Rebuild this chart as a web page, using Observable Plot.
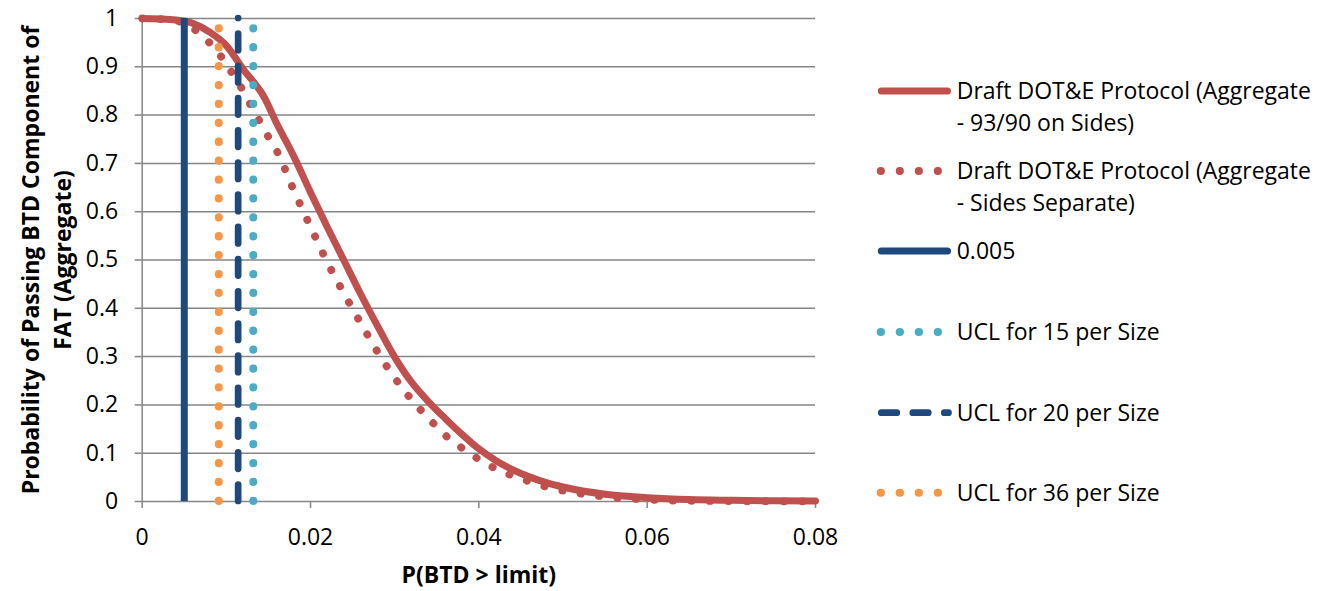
<!DOCTYPE html>
<html><head><meta charset="utf-8">
<script src="https://cdn.jsdelivr.net/npm/d3@7"></script>
<script src="https://cdn.jsdelivr.net/npm/@observablehq/plot@0.6"></script>
<style>
body{margin:0;background:#fff}
#wrap{position:relative;width:1322px;height:591px;overflow:hidden;background:#fff}
#chart{position:absolute;left:0;top:0}
#legend{position:absolute;left:850px;top:0}
</style>
</head><body>
<div id="wrap"><div id="chart"></div><svg id="legend" width="472" height="591"></svg></div>
<script>
// ---- data ----
const solidX = [0, 0.002, 0.004, 0.005, 0.006, 0.008, 0.010, 0.012, 0.0145, 0.016, 0.018, 0.020, 0.022, 0.024, 0.026, 0.028, 0.030, 0.032, 0.034, 0.036, 0.038, 0.040, 0.042, 0.044, 0.046, 0.048, 0.050, 0.055, 0.060, 0.065, 0.070, 0.075, 0.080];
const solidY = [1.000, 0.999, 0.997, 0.995, 0.990, 0.972, 0.944, 0.895, 0.837, 0.782, 0.715, 0.640, 0.568, 0.498, 0.428, 0.362, 0.299, 0.247, 0.207, 0.172, 0.139, 0.109, 0.085, 0.066, 0.051, 0.039, 0.030, 0.015, 0.008, 0.004, 0.0025, 0.0015, 0.001];
const dottedX = [0, 0.003, 0.005, 0.0069, 0.0083, 0.0098, 0.0110, 0.0122, 0.0132, 0.0143, 0.0154, 0.0165, 0.0173, 0.0182, 0.0201, 0.0220, 0.0241, 0.0263, 0.0286, 0.0312, 0.0326, 0.0342, 0.0357, 0.0375, 0.0393, 0.0412, 0.0432, 0.0454, 0.0475, 0.0496, 0.0519, 0.0541, 0.0563, 0.0585, 0.0607, 0.0629, 0.065, 0.070, 0.075, 0.080];
const dottedY = [1.000, 0.998, 0.990, 0.968, 0.944, 0.911, 0.878, 0.844, 0.810, 0.777, 0.742, 0.709, 0.673, 0.637, 0.565, 0.495, 0.427, 0.359, 0.292, 0.228, 0.199, 0.169, 0.142, 0.117, 0.095, 0.075, 0.059, 0.045, 0.033, 0.024, 0.017, 0.012, 0.008, 0.0056, 0.0035, 0.002, 0.0015, 0.001, 0.0005, 0.0003];
const refLimit = 0.005;
const ucl15 = 0.0132;
const ucl20 = 0.0114;
const ucl36 = 0.0091;
const xTicks = [0, 0.02, 0.04, 0.06, 0.08];
const xTickLabels = ["0", "0.02", "0.04", "0.06", "0.08"];
const yTicks = [0, 0.1, 0.2, 0.3, 0.4, 0.5, 0.6, 0.7, 0.8, 0.9, 1];
const yTickLabels = ["0", "0.1", "0.2", "0.3", "0.4", "0.5", "0.6", "0.7", "0.8", "0.9", "1"];
const seriesNames = [
  ["Draft DOT&E Protocol (Aggregate", "- 93/90 on Sides)"],
  ["Draft DOT&E Protocol (Aggregate", "- Sides Separate)"],
  ["0.005"],
  ["UCL for 15 per Size"],
  ["UCL for 20 per Size"],
  ["UCL for 36 per Size"]
];
const xTitle = "P(BTD > limit)";
const yTitle = "Probability of Passing BTD Component of\nFAT (Aggregate)";

const RED = "#C0504D", NAVY = "#1F497D", CYAN = "#4BACC6", ORANGE = "#F79646", GRID = "#868686";

const solid = solidX.map((x, i) => ({x, y: solidY[i]}));
const dotted = dottedX.map((x, i) => ({x, y: dottedY[i]}));

const chart = Plot.plot({
  width: 850, height: 591,
  marginLeft: 141.7, marginRight: 35, marginTop: 18, marginBottom: 90,
  style: {fontFamily: "'Open Sans'", fontSize: "23px", color: "#000", background: "#fff"},
  x: {domain: [0, 0.08]},
  y: {domain: [0, 1]},
  marks: [
    Plot.gridY(yTicks, {stroke: GRID, strokeOpacity: 1, strokeWidth: 1.5}),
    Plot.ruleX([0], {stroke: GRID, strokeWidth: 1.5}),
    Plot.axisY({ticks: yTicks, tickFormat: (d) => yTickLabels[yTicks.indexOf(d)], tickSize: 7, tickPadding: 17, stroke: GRID, strokeWidth: 1.5, fill: "#000", label: null}),
    Plot.axisX({ticks: xTicks, tickFormat: (d) => xTickLabels[xTicks.indexOf(d)], tickSize: 7, tickPadding: 20, stroke: GRID, strokeWidth: 1.5, fill: "#000", label: null}),
    Plot.line(solid, {x: "x", y: "y", stroke: RED, strokeWidth: 7, curve: "monotone-x", strokeLinejoin: "round"}),
    Plot.line(dotted, {x: "x", y: "y", stroke: RED, strokeWidth: 7.8, curve: "monotone-x", strokeDasharray: "0.3 18.2", strokeLinecap: "round"}),
    Plot.ruleX([refLimit], {y1: 0, y2: 1, stroke: NAVY, strokeWidth: 7}),
    Plot.ruleX([ucl15], {y1: 0, y2: 1, stroke: CYAN, strokeWidth: 8, strokeDasharray: "0.3 18.6", strokeLinecap: "round"}),
    Plot.ruleX([ucl20], {y1: 0, y2: 1, stroke: NAVY, strokeWidth: 6.7, strokeDasharray: "16.5 15.7", strokeLinecap: "round"}),
    Plot.ruleX([ucl36], {y1: 0, y2: 1, stroke: ORANGE, strokeWidth: 8, strokeDasharray: "0.3 18.6", strokeLinecap: "round"}),
    Plot.text([yTitle], {frameAnchor: "left", rotate: -90, dx: -97.7, fontWeight: "bold", textAnchor: "middle", lineAnchor: "middle", lineHeight: 1.38, fill: "#000"}),
    Plot.text([xTitle], {frameAnchor: "bottom", dy: 74, fontWeight: "bold", textAnchor: "middle", lineAnchor: "middle", fill: "#000"})
  ]
});
document.getElementById("chart").appendChild(chart);

// ---- legend ----
const lg = d3.select("#legend");
const off = 850;
const items = [
  {y: 91, color: RED, w: 7, dash: null, x1: 881.3, x2: 947.5},
  {y: 171, color: RED, w: 7.8, dash: "0.3 18.7", x1: 880.7, x2: 945},
  {y: 251, color: NAVY, w: 7, dash: null, x1: 881.3, x2: 947.5},
  {y: 332, color: CYAN, w: 8, dash: "0.3 18.7", x1: 880.7, x2: 945},
  {y: 412.7, color: NAVY, w: 6.7, dash: "15.5 16", x1: 881.3, x2: 948.5},
  {y: 492.7, color: ORANGE, w: 8, dash: "0.3 18.7", x1: 880.7, x2: 945}
];
items.forEach((it, i) => {
  lg.append("line")
    .attr("x1", it.x1 - off).attr("x2", it.x2 - off)
    .attr("y1", it.y).attr("y2", it.y)
    .attr("stroke", it.color).attr("stroke-width", it.w)
    .attr("stroke-linecap", "round")
    .attr("stroke-dasharray", it.dash);
  seriesNames[i].forEach((t, j) => {
    lg.append("text")
      .attr("x", 956.7 - off).attr("y", it.y + j * 32)
      .attr("dy", "0.36em")
      .attr("font-family", "'Open Sans'").attr("font-size", 23)
      .attr("fill", "#000")
      .text(t);
  });
});
</script>
</body></html>
